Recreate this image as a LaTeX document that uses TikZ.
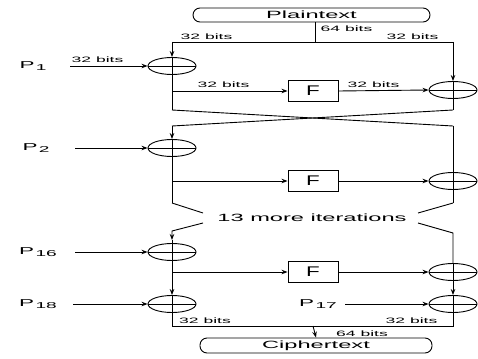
\documentclass[tikz,border=0pt]{standalone}
\usepackage{fontspec}
\setmainfont{Liberation Sans}
\usetikzlibrary{arrows.meta,shapes.geometric}
\newcommand\sx[1]{\scalebox{2.25}[1]{#1}}
\newcommand\bitsfont{\fontsize{7.8}{8}\selectfont}
\newcommand\plab[1]{\sx{\fontsize{10}{10}\selectfont P\kern0.6pt\raisebox{-1.8pt}{\fontsize{8.5}{8.5}\selectfont #1}}}
\tikzset{
  wire/.style={line width=0.9pt},
  arr/.style={wire,-{Stealth[length=6pt,width=4.5pt]}},
  xorop/.style={draw,ellipse,line width=0.9pt,minimum width=48pt,minimum height=17pt,inner sep=0pt},
  fbox/.style={draw,line width=0.9pt,minimum width=50pt,minimum height=21pt,inner sep=0pt,
    font=\fontsize{14}{14}\selectfont},
  endbox/.style={draw,line width=0.9pt,rounded corners=7pt,inner sep=0pt,
    font=\fontsize{10.5}{10.5}\selectfont},
  bits/.style={inner sep=0pt,font=\bitsfont},
  txt/.style={inner sep=0pt},
}
\begin{document}
\begin{tikzpicture}[x=1pt,y=-1pt]
\useasboundingbox (0,0) rectangle (478,358);

% input and output blocks
\node[endbox,minimum width=237pt,minimum height=14pt] (pt) at (311.5,15) {\sx{Plaintext}};
\node[endbox,minimum width=232pt,minimum height=15pt] (ct) at (316,345.5) {\sx{Ciphertext}};

% XOR operators
\foreach \n/\x/\y in {x1/172/66, y1/453/90, x2/172/148, y2/453/181,
                      x16/172/252, y16/453/272, x18/172/304, x17/453/304}{
  \node[xorop] (\n) at (\x,\y) {};
  \draw[wire] (\n.west) -- (\n.east);
}

% round functions
\node[fbox] (f1) at (313,91) {\scalebox{1.6}[1]{F}};
\node[fbox] (f2) at (313,181) {\scalebox{1.6}[1]{F}};
\node[fbox] (f3) at (313,272) {\scalebox{1.6}[1]{F}};

% subkey labels
\node[txt] (p1) at (33,66) {\plab{1}};
\node[txt] (p2) at (36,148) {\plab{2}};
\node[txt] (p16) at (38,252) {\plab{16}};
\node[txt] (p18) at (38,304) {\plab{18}};
\node[txt] (p17) at (318,304) {\plab{17}};

% routing points
\coordinate (tj) at (315,42);
\coordinate (tl) at (172,42);
\coordinate (tr) at (453,42);
\coordinate (a1) at (172,110);
\coordinate (b1) at (453,110);
\coordinate (a2) at (172,126);
\coordinate (b2) at (453,126);
\coordinate (a3) at (172,203);
\coordinate (b3) at (453,203);
\coordinate (c3l) at (203,213);
\coordinate (c3r) at (418,213);
\coordinate (d3l) at (203,223);
\coordinate (d3r) at (418,223);
\coordinate (a4) at (172,231);
\coordinate (a4b) at (172,240);
\coordinate (b4) at (453,233);
\coordinate (bl) at (172,326);
\coordinate (br) at (453,326);
\coordinate (bm) at (313,326);
\coordinate (p1s) at (70,66);
\coordinate (p2s) at (75,148);
\coordinate (p16s) at (75,252);
\coordinate (p18s) at (73,304);
\coordinate (p17s) at (345,304);

% split of the plaintext
\draw[wire] (tj |- pt.south) -- (tj);
\draw[wire] (tl) -- (tr);

% round 1
\draw[arr] (tl) -- (x1.north);
\draw[wire] (x1.north) -- (a1);
\draw[arr] (tr) -- (y1.north);
\draw[wire] (y1.north) -- (b1);
\draw[arr] (p1s) -- (x1.west);
\draw[arr] (f1.west -| x1) -- (f1.west);
\draw[arr] (f1.east) -- (y1.west);

% swap of the halves
\draw[wire] (a1) -- (b2);
\draw[wire] (b1) -- (a2);

% round 2
\draw[arr] (a2) -- (x2.north);
\draw[wire] (x2.north) -- (a3);
\draw[wire] (b2) -- (b3);
\draw[arr] (p2s) -- (x2.west);
\draw[arr] (f2.west -| x2) -- (f2.west);
\draw[arr] (f2.east) -- (y2.west);

% elided rounds
\node[txt] (more) at (312,218) {\sx{\fontsize{10.5}{10.5}\selectfont 13 more iterations}};
\draw[wire] (a3) -- (c3l);
\draw[wire] (b3) -- (c3r);
\draw[arr] (d3l) -- (a4) -- (a4b);
\draw[wire] (a4b) -- (x16.north);
\draw[wire] (d3r) -- (b4) -- (y16.north);

% round 16 and final whitening
\draw[arr] (x16.north) -- (x18.north);
\draw[arr] (y16.north) -- (x17.north);
\draw[arr] (p16s) -- (x16.west);
\draw[arr] (p18s) -- (x18.west);
\draw[arr] (p17s) -- (x17.west);
\draw[arr] (f3.west -| x16) -- (f3.west);
\draw[arr] (f3.east) -- (y16.west);

% recombination
\draw[wire] (x18.north) -- (bl) -- (br) -- (x17.north);
\draw[arr] (bm) -- (ct.north);

% width labels
\node[bits] (l1) at (206.5,37) {\sx{32 bits}};
\node[bits] (l2) at (346.5,29) {\sx{64 bits}};
\node[bits] (l3) at (412.5,37) {\sx{32 bits}};
\node[bits] (l4) at (97.5,60) {\sx{32 bits}};
\node[bits] (l5) at (223.5,84.5) {\sx{32 bits}};
\node[bits] (l6) at (373.5,84.5) {\sx{32 bits}};
\node[bits] (l7) at (205,321) {\sx{32 bits}};
\node[bits] (l8) at (411.5,321) {\sx{32 bits}};
\node[bits] (l9) at (362,334) {\sx{64 bits}};
\end{tikzpicture}
\end{document}
